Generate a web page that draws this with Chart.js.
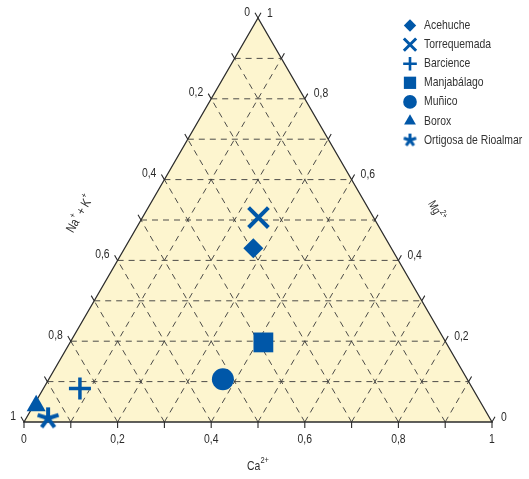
<!DOCTYPE html>
<html>
<head>
<meta charset="utf-8">
<script src="https://cdn.jsdelivr.net/npm/chart.js@4.4.1/dist/chart.umd.min.js"></script>
<style>
  html, body { margin: 0; background: #fff; }
  canvas { display: block; }
</style>
</head>
<body>
<canvas id="ternary" width="529" height="479"></canvas>
<script>
// sample compositions (fractions, Ca + Mg + Na+K = 1)
const samples = ['Acehuche', 'Torrequemada', 'Barcience', 'Manjabálago', 'Muñico', 'Borox', 'Ortigosa de Rioalmar'];
const caValues  = [0.275, 0.248, 0.078, 0.413, 0.372, 0.006, 0.047];
const mgValues  = [0.430, 0.506, 0.083, 0.197, 0.106, 0.040, 0.009];
const naKValues = [0.295, 0.246, 0.839, 0.390, 0.522, 0.954, 0.944];

const tickValues = [0, 0.2, 0.4, 0.6, 0.8, 1];
const tickLabels = ['0', '0,2', '0,4', '0,6', '0,8', '1'];
const gridSteps = [0.1, 0.2, 0.3, 0.4, 0.5, 0.6, 0.7, 0.8, 0.9];

const H = Math.sqrt(3) / 2;
const BLUE = 'rgb(0, 87, 168)';
const INK = '#2b2b2b';
const FONT = "'Liberation Sans', Arial, sans-serif";
const SQUEEZE = 0.8; // fake a condensed face

function makeAsterisk(size, lw) {
    const c = document.createElement('canvas');
    c.width = size; c.height = size;
    const g = c.getContext('2d');
    g.strokeStyle = BLUE;
    g.lineWidth = lw;
    const r = size / 2 - 1;
    g.beginPath();
    for (let k = 0; k < 5; k++) {
        const a = -Math.PI / 2 + k * 2 * Math.PI / 5;
        g.moveTo(size / 2, size / 2);
        g.lineTo(size / 2 + r * Math.cos(a), size / 2 + r * Math.sin(a));
    }
    g.stroke();
    return c;
}

const markers = [
    { style: 'rectRot', r: 10, bw: 0 },
    { style: 'crossRot', r: 14, bw: 4 },
    { style: 'cross', r: 11, bw: 3.5 },
    { style: 'rect', r: 14, bw: 0 },
    { style: 'circle', r: 11, bw: 0 },
    { style: 'triangle', r: 11, bw: 0 },
    { style: makeAsterisk(24, 4), r: 12, bw: 0 }
];
const legendStar = makeAsterisk(15, 3);

function toXY(ca, mg) {
    return { x: ca + mg / 2, y: mg * H };
}

const datasets = samples.map((name, i) => ({
    label: name,
    data: [toXY(caValues[i], mgValues[i])],
    pointStyle: markers[i].style,
    pointRadius: markers[i].r,
    borderWidth: markers[i].bw,
    pointBorderWidth: markers[i].bw,
    backgroundColor: BLUE,
    borderColor: BLUE,
    clip: false
}));

// text with a horizontal squeeze, parts may be superscript
function drawRich(ctx, parts, x, y, size, align) {
    const supSize = size * 0.72;
    const widths = parts.map(p => {
        ctx.font = (p.sup ? supSize : size) + 'px ' + FONT;
        return ctx.measureText(p.t).width;
    });
    const total = widths.reduce((a, b) => a + b, 0);
    let cx = 0;
    if (align === 'center') cx = -total / 2;
    if (align === 'right') cx = -total;
    ctx.save();
    ctx.translate(x, y);
    ctx.scale(SQUEEZE, 1);
    ctx.textAlign = 'left';
    ctx.textBaseline = 'middle';
    parts.forEach((p, i) => {
        ctx.font = (p.sup ? supSize : size) + 'px ' + FONT;
        ctx.fillText(p.t, cx, p.sup ? -size * 0.42 : 0);
        cx += widths[i];
    });
    ctx.restore();
}

const ternaryFrame = {
    id: 'ternaryFrame',
    beforeDatasetsDraw(chart) {
        const ctx = chart.ctx;
        const xs = chart.scales.x, ys = chart.scales.y;
        const pt = (ca, mg) => {
            const p = toXY(ca, mg);
            return [xs.getPixelForValue(p.x), ys.getPixelForValue(p.y)];
        };
        const A = pt(0, 0), B = pt(1, 0), C = pt(0, 1);

        ctx.save();
        ctx.fillStyle = '#fdf5cf';
        ctx.beginPath();
        ctx.moveTo(A[0], A[1]); ctx.lineTo(B[0], B[1]); ctx.lineTo(C[0], C[1]);
        ctx.closePath();
        ctx.fill();

        // dashed grid
        ctx.strokeStyle = '#3a3a3a';
        ctx.lineWidth = 0.9;
        ctx.setLineDash([6, 5]);
        ctx.beginPath();
        gridSteps.forEach(t => {
            let p1 = pt(0, t), p2 = pt(1 - t, t);
            ctx.moveTo(p1[0], p1[1]); ctx.lineTo(p2[0], p2[1]);
            p1 = pt(t, 0); p2 = pt(t, 1 - t);
            ctx.moveTo(p1[0], p1[1]); ctx.lineTo(p2[0], p2[1]);
            p1 = pt(1 - t, 0); p2 = pt(0, 1 - t);
            ctx.moveTo(p1[0], p1[1]); ctx.lineTo(p2[0], p2[1]);
        });
        ctx.stroke();
        ctx.setLineDash([]);

        // edges
        ctx.strokeStyle = INK;
        ctx.lineWidth = 1.3;
        ctx.beginPath();
        ctx.moveTo(A[0], A[1]); ctx.lineTo(B[0], B[1]); ctx.lineTo(C[0], C[1]);
        ctx.closePath();
        ctx.stroke();

        // tick marks
        ctx.lineWidth = 1.1;
        ctx.beginPath();
        const steps = [0].concat(gridSteps, [1]);
        const tl = 6;
        steps.forEach(t => {
            let p = pt(t, 0);
            ctx.moveTo(p[0], p[1]); ctx.lineTo(p[0], p[1] + tl);
            p = pt(0, 1 - t);
            ctx.moveTo(p[0], p[1]); ctx.lineTo(p[0] - tl * 0.5, p[1] - tl * H);
            p = pt(1 - t, t);
            ctx.moveTo(p[0], p[1]); ctx.lineTo(p[0] + tl * 0.5, p[1] - tl * H);
        });
        ctx.stroke();

        // tick labels
        ctx.fillStyle = INK;
        tickValues.forEach((v, i) => {
            let p = pt(v, 0);
            drawRich(ctx, [{ t: tickLabels[i] }], p[0], p[1] + 17, 13, 'center');
            p = pt(0, 1 - v);
            drawRich(ctx, [{ t: tickLabels[i] }], p[0] - 8, p[1] - 6, 13, 'right');
            p = pt(1 - v, v);
            drawRich(ctx, [{ t: tickLabels[i] }], p[0] + 9, p[1] - 5, 13, 'left');
        });

        // axis titles
        const mid = pt(0.5, 0);
        drawRich(ctx, [{ t: 'Ca' }, { t: '2+', sup: true }], mid[0], mid[1] + 44, 13, 'center');

        ctx.save();
        ctx.translate(80, 214);
        ctx.rotate(-Math.PI / 3);
        drawRich(ctx, [{ t: 'Na' }, { t: '+', sup: true }, { t: ' + K' }, { t: '+', sup: true }], 0, 0, 13, 'center');
        ctx.restore();

        ctx.save();
        ctx.translate(436, 211);
        ctx.rotate(Math.PI / 3);
        drawRich(ctx, [{ t: 'Mg' }, { t: '2+', sup: true }], 0, 0, 12, 'center');
        ctx.restore();

        ctx.restore();
    },
    afterDraw(chart) {
        const ctx = chart.ctx;
        ctx.save();
        const x0 = 410, y0 = 25.5, dy = 19.1;
        samples.forEach((name, i) => {
            const y = y0 + i * dy;
            const m = markers[i];
            ctx.fillStyle = BLUE;
            ctx.strokeStyle = BLUE;
            ctx.lineWidth = m.bw ? m.bw * 0.75 : 0;
            const style = typeof m.style === 'string' ? m.style : legendStar;
            Chart.helpers.drawPoint(ctx, {
                pointStyle: style,
                radius: m.r * 0.62,
                rotation: 0,
                borderWidth: m.bw ? m.bw * 0.75 : 0
            }, x0, y);
            ctx.fillStyle = '#333';
            drawRich(ctx, [{ t: name }], x0 + 14, y, 13, 'left');
        });
        ctx.restore();
    }
};

new Chart(document.getElementById('ternary'), {
    type: 'scatter',
    data: { datasets: datasets },
    options: {
        responsive: false,
        animation: false,
        events: [],
        layout: { padding: { left: 24, right: 37, top: 17, bottom: 57 } },
        scales: {
            x: { type: 'linear', min: 0, max: 1, display: false },
            y: { type: 'linear', min: 0, max: H, display: false }
        },
        plugins: {
            legend: { display: false },
            tooltip: { enabled: false }
        }
    },
    plugins: [ternaryFrame]
});
</script>
</body>
</html>
